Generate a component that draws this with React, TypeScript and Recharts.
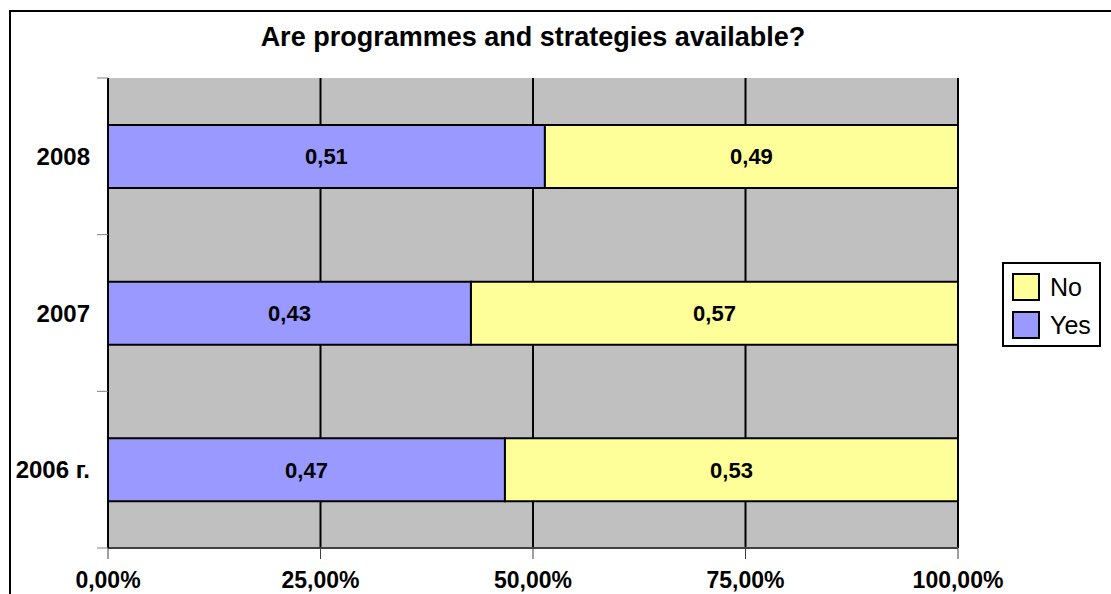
import React from 'react';
import { BarChart, Bar, XAxis, YAxis, CartesianGrid, LabelList } from 'recharts';

const years = ['2008', '2007', '2006 г.'];
const yesShare = [0.514, 0.427, 0.467];
const noShare = [0.486, 0.573, 0.533];
const xTicks = [0, 0.25, 0.5, 0.75, 1];

const SERIES = [
    { key: 'yes', name: 'Yes', color: '#9999FF' },
    { key: 'no', name: 'No', color: '#FFFF99' },
];

const FONT = '"Liberation Sans", Arial, sans-serif';

const data = years.map((year, i) => ({ year, yes: yesShare[i], no: noShare[i] }));

const fmtPct = (v: number) => (v * 100).toFixed(2).replace('.', ',') + '%';
const fmtVal = (v: any) => Number(v).toFixed(2).replace('.', ',');

// category ticks sit between bands, not at band centres
const YearTick = (props: any) => {
    const { x, y, payload, index } = props;
    const half = payload.offset || 0;
    return (
        <g>
            <line x1={x + 7} x2={x + 18} y1={y - half} y2={y - half} stroke="#808080" />
            {index === years.length - 1 && (
                <line x1={x + 7} x2={x + 18} y1={y + half} y2={y + half} stroke="#808080" />
            )}
            <text x={x} y={y} dy="0.36em" textAnchor="end" fontSize={24} fontWeight="bold" fill="#000">
                {payload.value}
            </text>
        </g>
    );
};

const App: React.FC = () => {
    return (
        <div style={{ position: 'absolute', left: 0, top: 0, width: 1111, height: 594, overflow: 'hidden', background: '#fff', fontFamily: FONT }}>
            <div style={{ position: 'absolute', left: 9, top: 10, width: 1300, height: 800, border: '2px solid #000' }} />
            <div style={{ position: 'absolute', left: 0, width: 1066, top: 21, textAlign: 'center', fontSize: 27, fontWeight: 'bold', color: '#000', lineHeight: '32px' }}>
                Are programmes and strategies available?
            </div>

            <div style={{ position: 'absolute', left: 0, top: 0 }}>
                <BarChart
                    width={1111}
                    height={594}
                    data={data}
                    layout="vertical"
                    margin={{ top: 78, right: 153, bottom: 0, left: 0 }}
                    barCategoryGap="30%"
                    style={{ fontFamily: FONT }}
                >
                    <CartesianGrid horizontal={false} stroke="#000" strokeWidth={2} fill="#C0C0C0" fillOpacity={1} />
                    <XAxis
                        type="number"
                        domain={[0, 1]}
                        ticks={xTicks}
                        tickFormatter={fmtPct}
                        height={46}
                        tickSize={11}
                        tickMargin={13}
                        interval={0}
                        axisLine={{ stroke: '#404040', strokeWidth: 2 }}
                        tickLine={{ stroke: '#404040' }}
                        tick={{ fill: '#000', fontSize: 23, fontWeight: 'bold' }}
                    />
                    <YAxis
                        type="category"
                        dataKey="year"
                        width={108}
                        tickSize={0}
                        tickMargin={18}
                        tickLine={false}
                        axisLine={{ stroke: '#000', strokeWidth: 2 }}
                        tick={<YearTick />}
                    />
                    {SERIES.map(s => (
                        <Bar key={s.key} dataKey={s.key} name={s.name} stackId="a" fill={s.color} stroke="#000" strokeWidth={2} isAnimationActive={false}>
                            <LabelList dataKey={s.key} position="center" formatter={fmtVal} fill="#000" fontSize={22} fontWeight="bold" />
                        </Bar>
                    ))}
                </BarChart>
            </div>

            <div style={{ position: 'absolute', left: 1002, top: 262, width: 95, height: 81, border: '2px solid #000', background: '#fff' }}>
                {[...SERIES].reverse().map((s, i) => (
                    <div key={s.key} style={{ position: 'absolute', left: 8, top: 9 + i * 38, display: 'flex', alignItems: 'center' }}>
                        <div style={{ width: 24, height: 24, background: s.color, border: '2px solid #000' }} />
                        <span style={{ marginLeft: 10, fontSize: 25, lineHeight: '28px', color: '#000' }}>{s.name}</span>
                    </div>
                ))}
            </div>
        </div>
    );
};

export default App;
